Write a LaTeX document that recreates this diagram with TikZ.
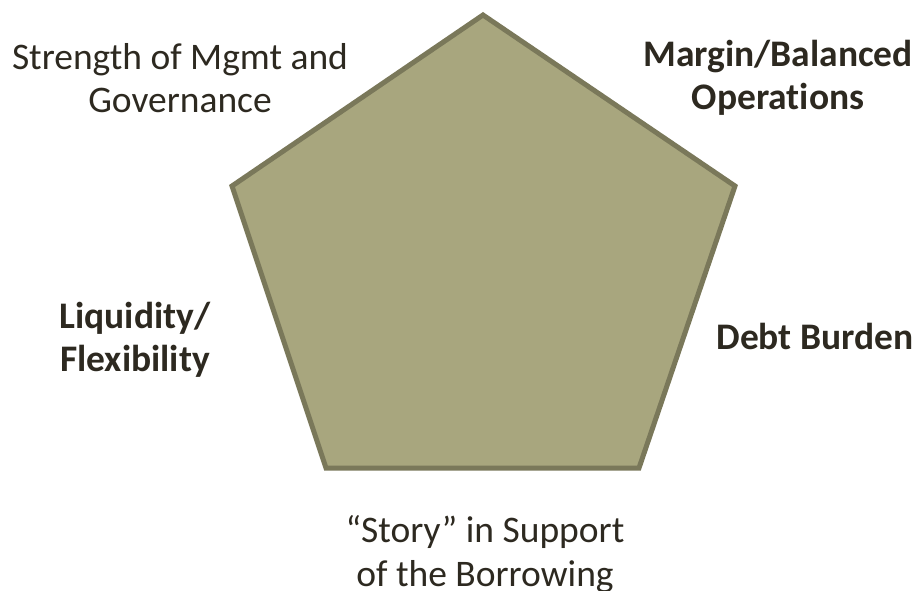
\documentclass[tikz,border=0pt]{standalone}
\usepackage{fontspec}
\setmainfont[Ligatures=NoCommon]{Carlito}
\usetikzlibrary{positioning}
\definecolor{penfill}{RGB}{168,166,126}
\definecolor{penline}{RGB}{122,120,90}
\definecolor{txt}{RGB}{45,41,32}
\tikzset{%
	pent/.style={draw=penline, fill=penfill, line width=5pt, line join=miter},
	plain/.style={align=center, text=txt, font=\fontsize{37.5}{43.5}\selectfont, inner sep=0pt},
	strong/.style={plain, font=\fontsize{37.5}{43.5}\selectfont\bfseries}
}
\begin{document}
\begin{tikzpicture}[x=1pt, y=-1pt]
		\useasboundingbox (0,0) rectangle (916,590);
		\coordinate (top) at (483,15);
		\coordinate (ur) at (735,186);
		\coordinate (br) at (639,468);
		\coordinate (bl) at (326,468);
		\coordinate (ul) at (232,186);
		\draw [pent] (top) -- (ur) -- (br) -- (bl) -- (ul) -- cycle;
		\node[plain] (mgmt) at (180,78) {Strength of Mgmt and\\Governance};
		\node[strong] (margin) at (778,78) {Margin/Balanced\\Operations};
		\node[strong] (liq) at (135,340) {Liquidity/\\Flexibility};
		\node[strong] (debt) at (815,336) {Debt Burden};
		\node[plain] (story) at (485,554) {``Story'' in Support\\of the Borrowing};
	\end{tikzpicture}
\end{document}
